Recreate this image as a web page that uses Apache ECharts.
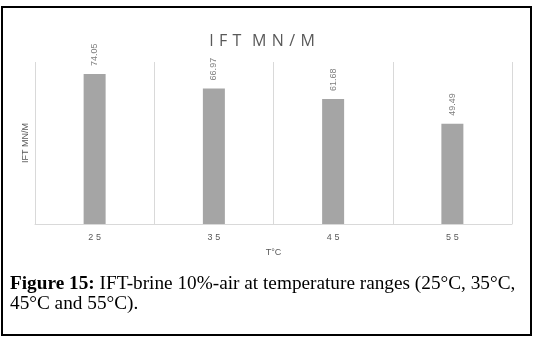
<!DOCTYPE html>
<html>
<head>
<meta charset="utf-8">
<script src="https://cdn.jsdelivr.net/npm/echarts@6/dist/echarts.min.js"></script>
<style>
  html, body { margin: 0; padding: 0; background: #fff; }
  #chart { width: 536px; height: 340px; }
</style>
</head>
<body>
<div id="chart"></div>
<script>
// data
const temps = ['25', '35', '45', '55']
const ift = [74.05, 66.97, 61.68, 49.49]
const chartTitle = 'IFT MN/M'
const xName = 'T°C'
const yName = 'IFT MN/M'

// excel-ish letter spacing for the title
function spaced(s) {
  return s.split(' ').map(w => w.split('').join('\u2004')).join('\u2004\u2004')
}

const chart = echarts.init(document.getElementById('chart'))
chart.setOption({
  animation: false,
  title: {
    text: spaced(chartTitle),
    left: 257,
    top: 28,
    textAlign: 'center',
    textStyle: {
      fontFamily: 'Open Sans',
      fontSize: 16,
      fontWeight: 500,
      color: '#595959'
    }
  },
  grid: {
    left: 35,
    right: 24,
    top: 62,
    bottom: 116
  },
  xAxis: {
    type: 'category',
    data: temps,
    name: xName,
    nameLocation: 'middle',
    nameGap: 24,
    nameTextStyle: { fontSize: 9, color: '#595959', fontFamily: 'Liberation Sans' },
    axisTick: { show: false },
    axisLine: { lineStyle: { color: '#d9d9d9' } },
    axisLabel: {
      margin: 9,
      fontSize: 9,
      color: '#595959',
      fontFamily: 'Liberation Sans',
      formatter: v => v.split('').join(' ')
    },
    splitLine: { show: true, interval: 0, lineStyle: { color: '#d9d9d9' } }
  },
  yAxis: {
    type: 'value',
    min: 0,
    max: 80,
    name: yName,
    nameLocation: 'middle',
    nameGap: 5,
    nameTextStyle: { fontSize: 9, color: '#595959', fontFamily: 'Liberation Sans Narrow, Liberation Sans' },
    axisLine: { show: false },
    axisTick: { show: false },
    axisLabel: { show: false },
    splitLine: { show: false }
  },
  series: [{
    type: 'bar',
    data: ift,
    barWidth: 22,
    itemStyle: { color: '#a5a5a5' },
    label: {
      show: true,
      position: 'top',
      rotate: 90,
      align: 'left',
      verticalAlign: 'middle',
      distance: 8,
      fontSize: 9,
      color: '#7f7f7f',
      fontFamily: 'Liberation Sans Narrow, Liberation Sans',
      formatter: p => p.value.toFixed(2)
    }
  }],
  graphic: [
    {
      type: 'rect',
      shape: { x: 2, y: 7, width: 529, height: 328 },
      style: { fill: 'none', stroke: '#000', lineWidth: 2 },
      silent: true
    },
    {
      type: 'text',
      x: 10,
      y: 274,
      scaleX: 1.07,
      style: {
        text: '{b|Figure 15:} IFT-brine 10%-air at temperature ranges (25°C, 35°C,\n45°C and 55°C).',
        fontFamily: 'Liberation Serif',
        fontSize: 18,
        lineHeight: 20,
        fill: '#000',
        rich: {
          b: { fontWeight: 'bold', fontFamily: 'Liberation Serif', fontSize: 18, lineHeight: 20 }
        }
      }
    }
  ]
})
</script>
</body>
</html>
